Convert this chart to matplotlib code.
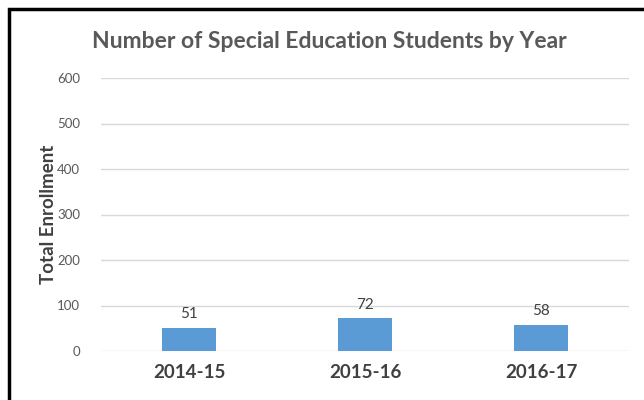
import matplotlib
matplotlib.use('Agg')
from matplotlib import pyplot as plt
from matplotlib.patches import Rectangle

years = ['2014-15', '2015-16', '2016-17']
students = [51, 72, 58]
y_ticks = [0, 100, 200, 300, 400, 500, 600]

plt.rcParams['font.family'] = ['Lato', 'DejaVu Sans']

fig = plt.figure(figsize=(6.44, 4.0), dpi=100)
ax = fig.add_axes([101 / 644, 1 - 351 / 400, 528 / 644, 273 / 400])

x = range(len(years))
bars = ax.bar(x, students, color='#5B9BD5', width=0.31, zorder=3)

for xi, v in zip(x, students):
    ax.text(xi, v + 14, str(v), ha='center', va='bottom', fontsize=11, color='#404040')

ax.set_xlim(-0.5, len(years) - 0.5)
ax.set_ylim(0, 600)
ax.set_yticks(y_ticks)
ax.set_yticklabels([str(t) for t in y_ticks], fontsize=9.5, color='#595959')
ax.set_xticks(list(x))
ax.set_xticklabels(years, fontsize=13.5, fontweight='bold', color='#404040')
ax.tick_params(axis='both', length=0)
ax.tick_params(axis='y', pad=15)
ax.tick_params(axis='x', pad=9)
ax.grid(axis='y', color='#D9D9D9', linewidth=1, zorder=0)
for s in ax.spines.values():
    s.set_visible(False)

ax.set_ylabel('Total Enrollment', fontsize=13.5, fontweight='bold', color='#404040', labelpad=0)
fig.text(329 / 644, 1 - 41 / 400, 'Number of Special Education Students by Year',
         ha='center', va='center', fontsize=16.5, fontweight='bold', color='#595959')

# black frame of the screenshot (only left and top edges visible)
fig.patches.append(Rectangle((8.5 / 644, -0.1), 1.2, 1.1 - 9.5 / 400, transform=fig.transFigure,
                             fill=False, edgecolor='black', linewidth=2.5))

fig.savefig('out.png', dpi=100)
